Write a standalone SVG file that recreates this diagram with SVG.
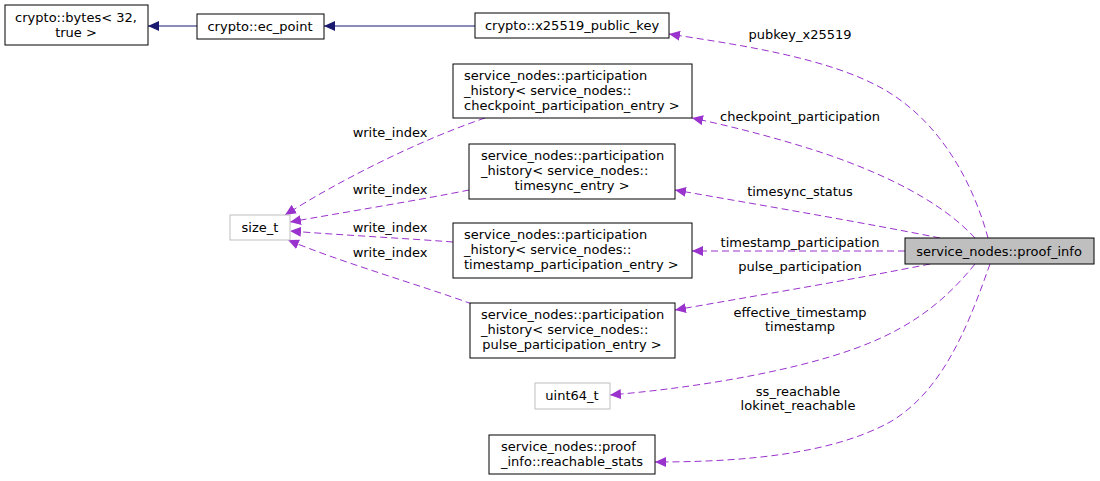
<svg xmlns="http://www.w3.org/2000/svg" width="1100" height="481" viewBox="0 0 1100 481">
<defs>
<style>
text{font-family:"DejaVu Sans",sans-serif;font-size:13px;fill:#000}
.c{text-anchor:middle}
.box{fill:#fff;stroke:#000;stroke-width:1}
.gbox{fill:#fff;stroke:#bfbfbf;stroke-width:1}
.blue{fill:none;stroke:#191970;stroke-width:1}
.dash{fill:none;stroke:#9a32cd;stroke-width:1;stroke-dasharray:7,4}
</style>
<marker id="ab" markerWidth="12" markerHeight="10" refX="11" refY="5" orient="auto" markerUnits="userSpaceOnUse">
<path d="M0,0 L11,5 L0,10 Z" fill="#191970"/>
</marker>
<marker id="ap" markerWidth="12" markerHeight="10" refX="11" refY="5" orient="auto" markerUnits="userSpaceOnUse">
<path d="M0,0 L11,5 L0,10 Z" fill="#9a32cd"/>
</marker>
</defs>
<rect width="1100" height="481" fill="#fff"/>
<g id="connectors">
<path class="blue" d="M197,26 L148,26" marker-end="url(#ab)"/>
<path class="blue" d="M475,26 L324,26" marker-end="url(#ab)"/>
<path class="dash" d="M988,238 C975,190 945,125 885,90 C830,58 740,45 669,34" marker-end="url(#ap)"/>
<path class="dash" d="M975,238 C940,200 880,172 820,152 C780,139 735,127 692,118" marker-end="url(#ap)"/>
<path class="dash" d="M940,238 C860,222 760,205 675,190" marker-end="url(#ap)"/>
<path class="dash" d="M905,251 L692,251" marker-end="url(#ap)"/>
<path class="dash" d="M930,264 C850,280 760,295 675,310" marker-end="url(#ap)"/>
<path class="dash" d="M975,264 C930,320 880,345 800,365 C740,380 670,390 610,395" marker-end="url(#ap)"/>
<path class="dash" d="M990,264 C970,320 945,390 890,422 C830,455 740,462 655,462" marker-end="url(#ap)"/>
<path class="dash" d="M485,118 C420,140 340,180 285,215" marker-end="url(#ap)"/>
<path class="dash" d="M469,190 C420,200 340,213 290,222" marker-end="url(#ap)"/>
<path class="dash" d="M453,242 C400,238 340,235 290,231" marker-end="url(#ap)"/>
<path class="dash" d="M472,304 C420,285 340,262 288,240" marker-end="url(#ap)"/>
<text class="c" x="800" y="39">pubkey_x25519</text>
<text class="c" x="800" y="121">checkpoint_participation</text>
<text class="c" x="800" y="196">timesync_status</text>
<text class="c" x="800" y="247">timestamp_participation</text>
<text class="c" x="800" y="271">pulse_participation</text>
<text class="c" x="800" y="317">effective_timestamp</text>
<text class="c" x="800" y="331">timestamp</text>
<text class="c" x="798" y="396">ss_reachable</text>
<text class="c" x="798" y="410">lokinet_reachable</text>
<text class="c" x="390" y="137">write_index</text>
<text class="c" x="390" y="194">write_index</text>
<text class="c" x="390" y="232">write_index</text>
<text class="c" x="390" y="257">write_index</text>
</g>
<g id="bytes">
<rect class="box" x="5" y="5" width="143" height="40"/>
<text class="c" x="76" y="22">crypto::bytes&lt; 32,</text>
<text class="c" x="76" y="37">true &gt;</text>
</g>
<g id="ec_point">
<rect class="box" x="197" y="14" width="127" height="25"/>
<text class="c" x="260" y="31">crypto::ec_point</text>
</g>
<g id="x25519">
<rect class="box" x="475" y="13" width="194" height="25"/>
<text class="c" x="572" y="30">crypto::x25519_public_key</text>
</g>
<g id="checkpoint">
<rect class="box" x="453" y="64" width="239" height="54"/>
<text x="464" y="80">service_nodes::participation</text>
<text x="464" y="95">_history&lt; service_nodes::</text>
<text x="464" y="110">checkpoint_participation_entry &gt;</text>
</g>
<g id="timesync">
<rect class="box" x="469" y="144" width="206" height="55"/>
<text x="481" y="160">service_nodes::participation</text>
<text x="481" y="175">_history&lt; service_nodes::</text>
<text class="c" x="572" y="190">timesync_entry &gt;</text>
</g>
<g id="timestamp">
<rect class="box" x="453" y="223" width="239" height="55"/>
<text x="464" y="239">service_nodes::participation</text>
<text x="464" y="254">_history&lt; service_nodes::</text>
<text x="464" y="269">timestamp_participation_entry &gt;</text>
</g>
<g id="pulse">
<rect class="box" x="470" y="303" width="205" height="55"/>
<text x="481" y="319">service_nodes::participation</text>
<text x="481" y="334">_history&lt; service_nodes::</text>
<text class="c" x="572" y="349">pulse_participation_entry &gt;</text>
</g>
<g id="size_t">
<rect class="gbox" x="230" y="215" width="60" height="25"/>
<text class="c" x="260" y="232">size_t</text>
</g>
<g id="uint64_t">
<rect class="gbox" x="535" y="383" width="75" height="26"/>
<text class="c" x="572" y="400">uint64_t</text>
</g>
<g id="reachable_stats">
<rect class="box" x="489" y="435" width="166" height="39"/>
<text x="501" y="451">service_nodes::proof</text>
<text x="501" y="466">_info::reachable_stats</text>
</g>
<g id="proof_info">
<rect x="905" y="238" width="189" height="26" fill="#bfbfbf" stroke="#000"/>
<text class="c" x="999" y="256">service_nodes::proof_info</text>
</g>
</svg>
